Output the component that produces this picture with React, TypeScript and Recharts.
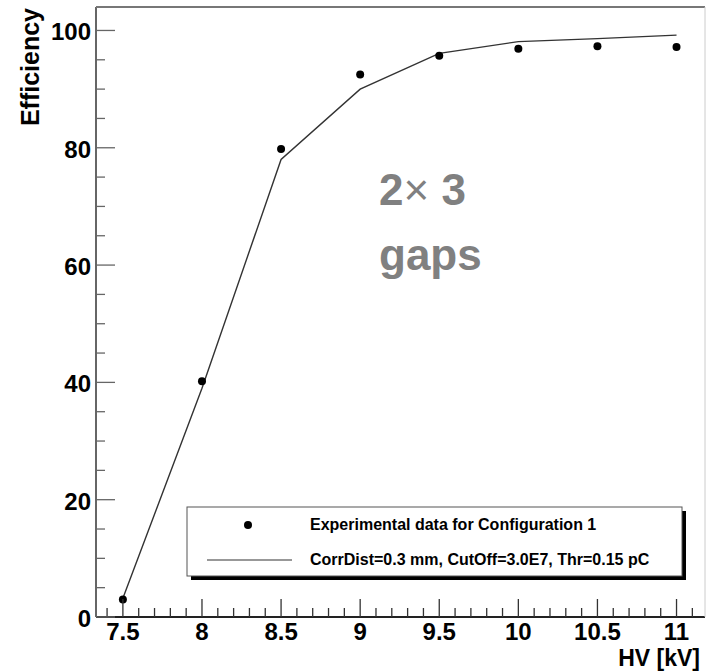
import React from "react";
import { ComposedChart, Line, Scatter, XAxis, YAxis } from "recharts";

const hvKv = [7.5, 8, 8.5, 9, 9.5, 10, 10.5, 11];
const measuredEff = [3.0, 40.2, 79.8, 92.5, 95.7, 96.9, 97.3, 97.2];
const simulatedEff = [3.2, 39.0, 78.0, 90.0, 96.1, 98.1, 98.6, 99.2];

const xTicks = [
  7.4, 7.5, 7.6, 7.7, 7.8, 7.9, 8, 8.1, 8.2, 8.3, 8.4, 8.5, 8.6, 8.7, 8.8, 8.9, 9,
  9.1, 9.2, 9.3, 9.4, 9.5, 9.6, 9.7, 9.8, 9.9, 10, 10.1, 10.2, 10.3, 10.4, 10.5,
  10.6, 10.7, 10.8, 10.9, 11, 11.1,
];
const xLabels = ["7.5", "8", "8.5", "9", "9.5", "10", "10.5", "11"];
const yTicks = [0, 5, 10, 15, 20, 25, 30, 35, 40, 45, 50, 55, 60, 65, 70, 75, 80, 85, 90, 95, 100];
const yLabels = ["0", "20", "40", "60", "80", "100"];

const legendItems = [
  "Experimental data for Configuration 1",
  "CorrDist=0.3 mm, CutOff=3.0E7, Thr=0.15 pC",
];

const FONT = "'Liberation Sans', Arial, Helvetica, sans-serif";

const rows = hvKv.map((hv, i) => ({ hv, eff: measuredEff[i], sim: simulatedEff[i] }));

function XTick(props: any) {
  const { x, y, payload } = props;
  const v = payload.value;
  const label = xLabels.find((l) => Math.abs(parseFloat(l) - v) < 1e-6);
  const len = label ? 18 : 9;
  return (
    <g>
      <line x1={x} x2={x} y1={y} y2={y - len} stroke="#333" strokeWidth={1.3} />
      {label && (
        <text x={x} y={y + 23} textAnchor="middle" fontFamily={FONT} fontWeight="bold" fontSize={24} fill="#000">
          {label}
        </text>
      )}
    </g>
  );
}

function YTick(props: any) {
  const { x, y, payload } = props;
  const v = payload.value;
  const label = yLabels.find((l) => parseFloat(l) === v);
  const len = label ? 19 : 9;
  return (
    <g>
      <line x1={x} x2={x + len} y1={y} y2={y} stroke="#666" strokeWidth={1.3} />
      {label && (
        <text x={x - 5} y={y + 10} textAnchor="end" fontFamily={FONT} fontWeight="bold" fontSize={24} fill="#000">
          {label}
        </text>
      )}
    </g>
  );
}

function Dot(props: any) {
  return <circle cx={props.cx} cy={props.cy} r={4} fill="#000" />;
}

export default function App() {
  return (
    <div style={{ position: "absolute", left: 0, top: 0, width: 706, height: 671, background: "#fff" }}>
      <ComposedChart width={706} height={671} data={rows} margin={{ top: 7, right: 1, left: 0, bottom: 0 }}>
        <XAxis
          dataKey="hv"
          type="number"
          domain={[7.33, 11.18]}
          allowDataOverflow
          ticks={xTicks}
          interval={0}
          tickSize={0}
          tickMargin={0}
          tickLine={false}
          height={54}
          axisLine={{ stroke: "#222", strokeWidth: 2 }}
          tick={(p: any) => <XTick {...p} />}
          label={{
            content: () => (
              <text
                x={700}
                y={666}
                textAnchor="end"
                fontFamily={FONT}
                fontWeight="bold"
                fontSize={23}
                fill="#000"
              >
                HV [kV]
              </text>
            ),
          }}
        />
        <YAxis
          type="number"
          domain={[0, 104]}
          allowDataOverflow
          ticks={yTicks}
          interval={0}
          tickSize={0}
          tickMargin={0}
          tickLine={false}
          width={96}
          axisLine={{ stroke: "#666", strokeWidth: 2 }}
          tick={(p: any) => <YTick {...p} />}
          label={{
            content: () => (
              <text
                x={39}
                y={8}
                transform="rotate(-90 39 8)"
                textAnchor="end"
                fontFamily={FONT}
                fontWeight="bold"
                fontSize={25}
                fill="#000"
              >
                Efficiency
              </text>
            ),
          }}
        />
        <Line
          dataKey="sim"
          type="linear"
          stroke="#333"
          strokeWidth={1.4}
          dot={false}
          isAnimationActive={false}
        />
        <Scatter dataKey="eff" fill="#000" shape={(p: any) => <Dot {...p} />} isAnimationActive={false} />
      </ComposedChart>
      <svg
        width={706}
        height={671}
        style={{ position: "absolute", left: 0, top: 0, pointerEvents: "none" }}
      >
        <line x1={96} x2={705} y1={7} y2={7} stroke="#777" strokeWidth={2} />
        <line x1={705} x2={705} y1={7} y2={617} stroke="#ccc" strokeWidth={1} />
        <text x={379} y={205} fontFamily={FONT} fontWeight="bold" fontSize={44} fill="#808080">
          2<tspan fontWeight="normal">×</tspan> 3
        </text>
        <text x={379} y={270} fontFamily={FONT} fontWeight="bold" fontSize={44} fill="#808080">
          gaps
        </text>
        <rect x={191} y={511} width={495} height={69} fill="#000" />
        <rect x={187} y={507} width={495} height={69} fill="#fff" stroke="#555" strokeWidth={1} />
        <circle cx={248} cy={525} r={4} fill="#000" />
        <text x={310} y={530} fontFamily={FONT} fontWeight="bold" fontSize={16} fill="#000">
          {legendItems[0]}
        </text>
        <line x1={207} x2={292} y1={560} y2={560} stroke="#333" strokeWidth={1.2} />
        <text x={310} y={565} fontFamily={FONT} fontWeight="bold" fontSize={16} fill="#000">
          {legendItems[1]}
        </text>
      </svg>
    </div>
  );
}
